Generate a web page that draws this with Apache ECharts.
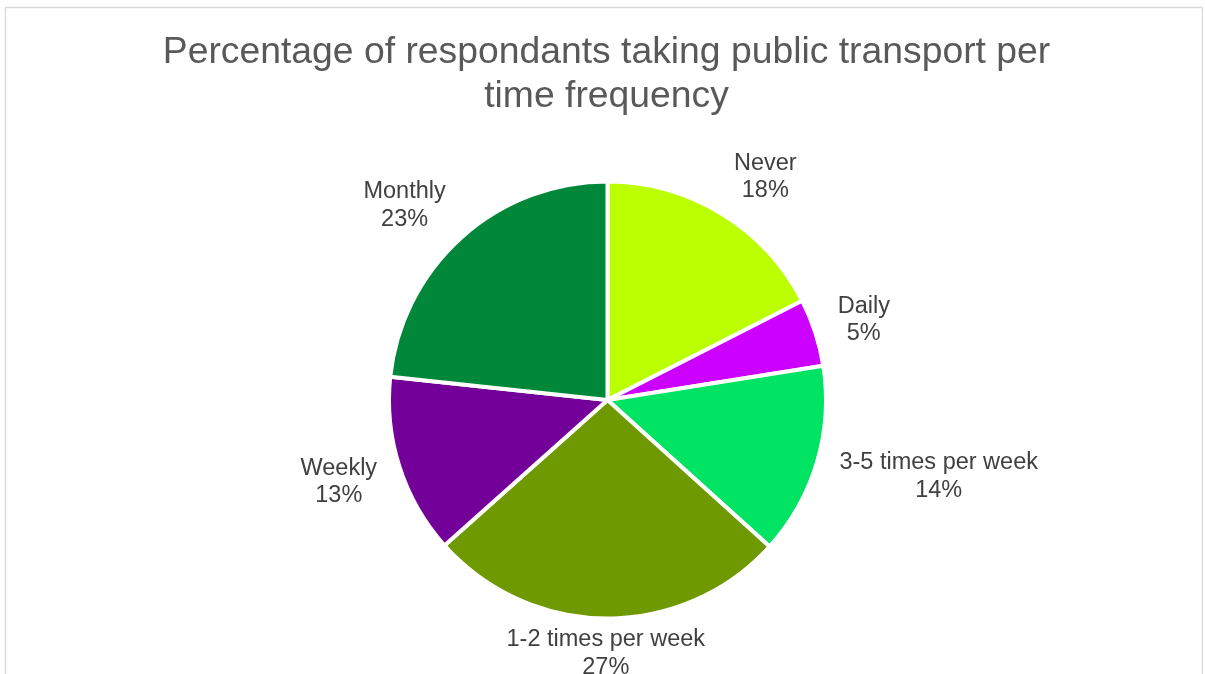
<!DOCTYPE html>
<html>
<head>
<meta charset="utf-8">
<script src="https://cdn.jsdelivr.net/npm/echarts@6/dist/echarts.min.js"></script>
<style>
html,body{margin:0;padding:0;background:#fff;}
#chart{width:1205px;height:674px;}
</style>
</head>
<body>
<div id="chart"></div>
<script>
const categories = ["Never", "Daily", "3-5 times per week", "1-2 times per week", "Weekly", "Monthly"];
const percentages = [17.5, 5.0, 14.2, 26.7, 13.3, 23.3];
const sliceColors = ["#BBFF00", "#CC00FF", "#00E363", "#6E9900", "#730099", "#00873A"];
const titleText = "Percentage of respondants taking public transport per\ntime frequency";

const CX = 607.5, CY = 400, R = 218.5;
const LABEL_RX = 242, LABEL_RY = 236, MAX_BOTTOM = 681;
const total = percentages.reduce((a, b) => a + b, 0);
const midAngles = [];
let acc = 0;
percentages.forEach(v => { midAngles.push((acc + v / 2) / total * 2 * Math.PI); acc += v; });

const chart = echarts.init(document.getElementById('chart'), null, {renderer: 'canvas'});
chart.setOption({
  backgroundColor: '#fff',
  animation: false,
  graphic: [{
    type: 'rect', silent: true,
    shape: {x: 5.5, y: 7.5, width: 1197, height: 720},
    style: {fill: 'none', stroke: '#D9D9D9', lineWidth: 1.3}
  }],
  title: {
    text: titleText,
    left: 606.5, top: 31, textAlign: 'center', padding: 0,
    textStyle: {fontFamily: 'Liberation Sans, Arial, sans-serif', fontSize: 37.3, fontWeight: 'normal', color: '#595959', lineHeight: 44}
  },
  series: [{
    type: 'pie',
    center: [CX, CY],
    radius: [0, R],
    startAngle: 90,
    clockwise: true,
    avoidLabelOverlap: false,
    data: categories.map((c, i) => ({name: c, value: percentages[i], itemStyle: {color: sliceColors[i]}})),
    itemStyle: {borderColor: '#fff', borderWidth: 4},
    label: {
      show: true, position: 'inside',
      formatter: p => p.name + '\n' + Math.round(p.value) + '%',
      fontFamily: 'Liberation Sans, Arial, sans-serif', fontSize: 23.5, lineHeight: 27.5,
      color: '#404040', align: 'center', verticalAlign: 'middle'
    },
    labelLine: {show: false},
    emphasis: {disabled: true},
    labelLayout: function (params) {
      const th = midAngles[params.dataIndex];
      const w = params.labelRect.width, h = params.labelRect.height;
      const s = Math.sin(th), c = Math.cos(th);
      const side = Math.max(-1, Math.min(1, s * 3));
      let x = CX + LABEL_RX * s + (w / 2) * side;
      let y = CY - (LABEL_RY + h / 2) * c + 1.5;
      if (y + h / 2 > MAX_BOTTOM) y = MAX_BOTTOM - h / 2;
      return {x: x, y: y, align: 'center', verticalAlign: 'middle'};
    }
  }]
});
</script>
</body>
</html>
